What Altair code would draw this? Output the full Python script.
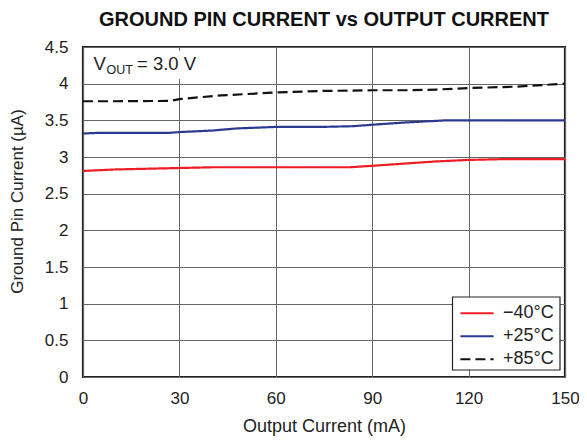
import altair as alt
import pandas as pd

# Data
x_m40 = [0, 5, 10, 20, 30, 40, 60, 83, 90, 100, 110, 120, 130, 150]
y_m40 = [2.81, 2.82, 2.83, 2.84, 2.85, 2.86, 2.86, 2.86, 2.88, 2.91, 2.94, 2.96, 2.97, 2.97]

x_p25 = [0, 5, 27, 30, 40, 48, 60, 74, 84, 90, 100, 113, 120, 150]
y_p25 = [3.32, 3.33, 3.33, 3.34, 3.36, 3.39, 3.41, 3.41, 3.42, 3.44, 3.47, 3.50, 3.50, 3.50]

x_p85 = [0, 10, 27, 30, 43, 60, 74, 90, 102, 110, 120, 135, 150]
y_p85 = [3.76, 3.76, 3.765, 3.79, 3.84, 3.88, 3.90, 3.91, 3.91, 3.92, 3.94, 3.96, 4.00]

series = ["\u221240\u00b0C", "+25\u00b0C", "+85\u00b0C"]
colors = ["#ee1c25", "#2b3990", "#111111"]
dashes = [[1, 0], [1, 0], [10, 5]]

x_ticks = [0, 30, 60, 90, 120, 150]
y_ticks = [0, 0.5, 1, 1.5, 2, 2.5, 3, 3.5, 4, 4.5]

rows = []
for name, xs, ys in zip(series, [x_m40, x_p25, x_p85], [y_m40, y_p25, y_p85]):
    for xv, yv in zip(xs, ys):
        rows.append({"x": xv, "y": yv, "series": name})
df = pd.DataFrame(rows)

FONT = "Liberation Sans"
W, H = 482, 330

lines = alt.Chart(df).mark_line(strokeWidth=2.2).encode(
    x=alt.X("x:Q", scale=alt.Scale(domain=[0, 150], nice=False),
            axis=alt.Axis(values=x_ticks, title="Output Current (mA)", titleY=40)),
    y=alt.Y("y:Q", scale=alt.Scale(domain=[0, 4.5], nice=False),
            axis=alt.Axis(values=y_ticks, format="~g", title="Ground Pin Current (\u00b5A)",
                          titleX=-57, titleY=154, titleFontSize=17)),
    color=alt.Color("series:N", sort=series,
                    scale=alt.Scale(domain=series, range=colors),
                    legend=alt.Legend(title=None)),
    strokeDash=alt.StrokeDash("series:N", sort=series,
                              scale=alt.Scale(domain=series, range=dashes),
                              legend=alt.Legend(title=None)),
    order=alt.Order("x:Q"),
)

one = pd.DataFrame({"a": [0]})
box = alt.Chart(one).mark_rect(color="white").encode(
    x=alt.value(2), x2=alt.value(118), y=alt.value(4), y2=alt.value(32)
)
legend_box = alt.Chart(one).mark_rect(fill="white", stroke="#222", strokeWidth=1.2).encode(
    x=alt.value(369.5), x2=alt.value(477), y=alt.value(250), y2=alt.value(323)
)
t1 = alt.Chart(one).mark_text(font=FONT, fontSize=18.5, align="left", baseline="alphabetic", color="#222").encode(
    x=alt.value(10.5), y=alt.value(23), text=alt.value("V"))
t2 = alt.Chart(one).mark_text(font=FONT, fontSize=12.5, align="left", baseline="alphabetic", color="#222").encode(
    x=alt.value(23.5), y=alt.value(27), text=alt.value("OUT"))
t3 = alt.Chart(one).mark_text(font=FONT, fontSize=18.5, align="left", baseline="alphabetic", color="#222").encode(
    x=alt.value(54), y=alt.value(23), text=alt.value("= 3.0 V"))

chart = alt.layer(box, lines, legend_box, t1, t2, t3).properties(
    width=W, height=H,
    title=alt.TitleParams("GROUND PIN CURRENT vs OUTPUT CURRENT", font=FONT, fontSize=20,
                          fontWeight="bold", anchor="middle", offset=8.5, color="#111"),
    autosize=alt.AutoSizeParams(type="none"),
    padding={"left": 75, "top": 39, "right": 14, "bottom": 60},
).configure_view(
    stroke="#222", strokeWidth=2.2
).configure_axis(
    labelFont=FONT, titleFont=FONT, labelFontSize=17, titleFontSize=18,
    labelColor="#222", titleColor="#222", titleFontWeight="normal", labelFlush=False,
    domain=False, ticks=False, tickSize=0, gridColor="#666", gridWidth=1, gridOpacity=1,
).configure_axisX(labelPadding=13).configure_axisY(labelPadding=15).configure_legend(
    orient="none", legendX=376, legendY=255, strokeColor="transparent", fillColor="transparent",
    padding=0, symbolType="stroke", symbolSize=1100, symbolStrokeWidth=2.2,
    labelFont=FONT, labelFontSize=18, labelColor="#222", rowPadding=0, labelOffset=8,
    clipHeight=22.5, cornerRadius=0,
)

chart.save("out.html", embed_options={"renderer": "svg", "actions": False})
